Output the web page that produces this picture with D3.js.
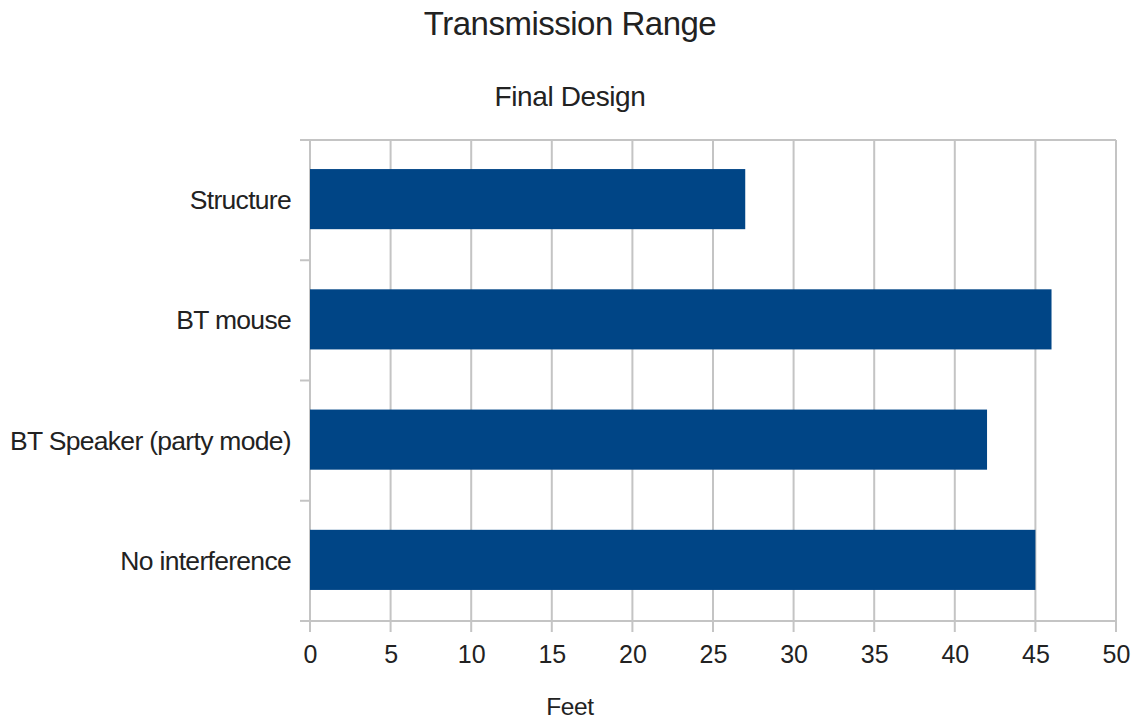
<!DOCTYPE html>
<html>
<head>
<meta charset="utf-8">
<script src="https://cdn.jsdelivr.net/npm/d3@7"></script>
<style>
  body { margin: 0; background: #fff; }
  svg text { font-family: "Liberation Sans", Arial, sans-serif; fill: #222; }
</style>
</head>
<body>
<svg id="chart" width="1136" height="719"></svg>
<script>
// data
var categories = ["Structure", "BT mouse", "BT Speaker (party mode)", "No interference"];
var feet = [27, 46, 42, 45];
var xTicks = [0, 5, 10, 15, 20, 25, 30, 35, 40, 45, 50];

var svg = d3.select("#chart");

// plot box (note: "top" is taken by window.top)
var pLeft = 310, pRight = 1116, pTop = 140, pBottom = 621;
var grid = "#c4c4c4";

var x = d3.scaleLinear().domain([0, 50]).range([pLeft, pRight]);
var band = d3.scaleBand().domain(categories).range([pTop, pBottom]);
var y = d3.scaleBand().domain(categories).range([pTop, pBottom]).paddingInner(0.5).paddingOuter(0.25);

// vertical grid lines
svg.append("g")
  .selectAll("line")
  .data(xTicks)
  .join("line")
    .attr("x1", d => x(d)).attr("x2", d => x(d))
    .attr("y1", pTop).attr("y2", pBottom + 11)
    .attr("stroke", grid)
    .attr("stroke-width", 2);

// top + bottom lines
[pTop, pBottom].forEach(function(yy) {
  svg.append("line")
    .attr("x1", pLeft - 10).attr("x2", pRight)
    .attr("y1", yy).attr("y2", yy)
    .attr("stroke", grid).attr("stroke-width", 2);
});

// category boundary ticks
var bounds = categories.slice(1).map(c => band(c));
svg.append("g")
  .selectAll("line")
  .data(bounds)
  .join("line")
    .attr("x1", pLeft - 10).attr("x2", pLeft)
    .attr("y1", d => d).attr("y2", d => d)
    .attr("stroke", grid).attr("stroke-width", 2);

// bars
svg.append("g")
  .selectAll("rect")
  .data(categories)
  .join("rect")
    .attr("x", x(0))
    .attr("y", d => y(d) - 1)
    .attr("width", (d, i) => x(feet[i]) - x(0))
    .attr("height", y.bandwidth())
    .attr("fill", "#004586");

// x tick labels
var xAxis = d3.axisBottom(x).tickValues(xTicks).tickSize(0).tickPadding(0);
var gx = svg.append("g").attr("transform", "translate(0," + (pBottom + 42) + ")").call(xAxis);
gx.select(".domain").remove();
gx.selectAll("text")
  .attr("dy", 0)
  .attr("font-size", 25)
  .attr("fill", "#222")
  .style("font-family", "'Liberation Sans', Arial, sans-serif");

// y labels
var yAxis = d3.axisLeft(band).tickSize(0).tickPadding(0);
var gy = svg.append("g").attr("transform", "translate(" + (pLeft - 19) + ",0)").call(yAxis);
gy.select(".domain").remove();
gy.selectAll("text")
  .attr("dy", "0.34em")
  .attr("font-size", 26.5)
  .attr("letter-spacing", -0.7)
  .attr("fill", "#222")
  .style("font-family", "'Liberation Sans', Arial, sans-serif");

// titles
svg.append("text")
  .attr("x", 570).attr("y", 35)
  .attr("text-anchor", "middle")
  .attr("font-size", 33)
  .attr("letter-spacing", -0.5)
  .text("Transmission Range");
svg.append("text")
  .attr("x", 570).attr("y", 106)
  .attr("text-anchor", "middle")
  .attr("font-size", 28)
  .attr("letter-spacing", -0.4)
  .text("Final Design");
svg.append("text")
  .attr("x", 570).attr("y", 715)
  .attr("text-anchor", "middle")
  .attr("font-size", 24.5)
  .attr("letter-spacing", -0.4)
  .text("Feet");
</script>
</body>
</html>
